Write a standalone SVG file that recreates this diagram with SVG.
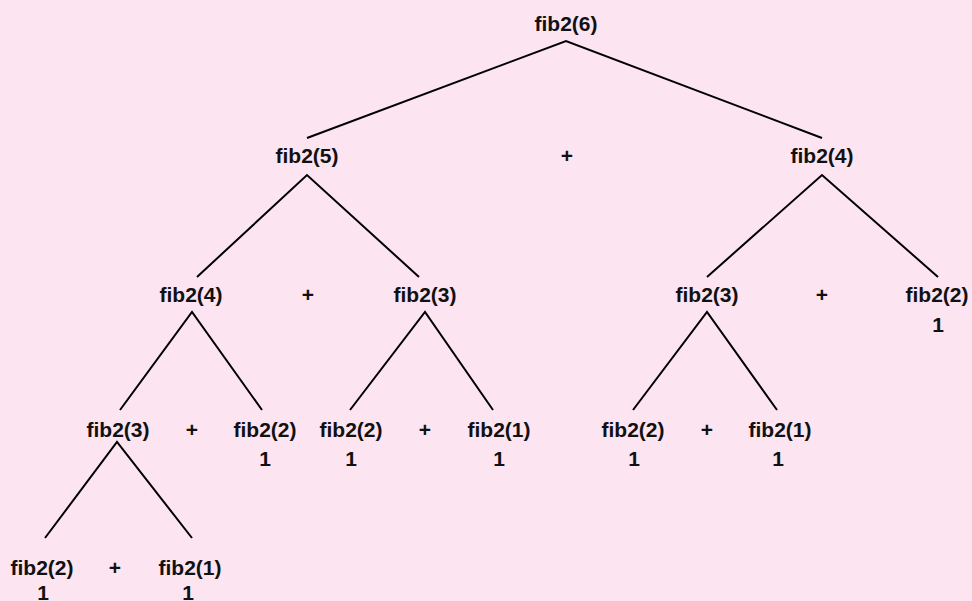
<svg xmlns="http://www.w3.org/2000/svg" width="972" height="601" viewBox="0 0 972 601">
<style>
text{font-family:"Liberation Sans",Arial,sans-serif;font-weight:bold;font-size:21px;fill:#111;text-anchor:middle}
.e{stroke:#000;stroke-width:2;fill:none}
</style>
<rect width="972" height="601" fill="#fce4f1"/>
<g id="connectors">
<path class="e" d="M307 138L566 41L822 138"/>
<path class="e" d="M197 277L307 175L419 277"/>
<path class="e" d="M707 277L822 175L938 277"/>
<path class="e" d="M120 410L192 312L262 410"/>
<path class="e" d="M350 410L425 312L493 410"/>
<path class="e" d="M633 410L707 312L777 410"/>
<path class="e" d="M45 538L117 442L192 538"/>
</g>
<g id="n-fib6"><text x="566" y="31">fib2(6)</text></g>
<g id="n-fib5"><text x="307" y="163">fib2(5)</text></g>
<g id="n-fib4a"><text x="822" y="163">fib2(4)</text></g>
<g id="n-fib4b"><text x="191" y="302">fib2(4)</text></g>
<g id="n-fib3a"><text x="425" y="302">fib2(3)</text></g>
<g id="n-fib3b"><text x="707" y="302">fib2(3)</text></g>
<g id="n-fib2a"><text x="937" y="302">fib2(2)</text><text x="938" y="332">1</text></g>
<g id="n-fib3c"><text x="118" y="437">fib2(3)</text></g>
<g id="n-fib2b"><text x="265" y="437">fib2(2)</text><text x="265" y="466">1</text></g>
<g id="n-fib2c"><text x="351" y="437">fib2(2)</text><text x="351" y="466">1</text></g>
<g id="n-fib1a"><text x="499" y="437">fib2(1)</text><text x="499" y="466">1</text></g>
<g id="n-fib2d"><text x="633" y="437">fib2(2)</text><text x="634" y="466">1</text></g>
<g id="n-fib1b"><text x="780" y="437">fib2(1)</text><text x="778" y="466">1</text></g>
<g id="n-fib2e"><text x="42" y="575">fib2(2)</text><text x="43" y="600">1</text></g>
<g id="n-fib1c"><text x="190" y="575">fib2(1)</text><text x="188" y="600">1</text></g>
<g id="ops">
<text x="567" y="163">+</text>
<text x="308" y="302">+</text>
<text x="822" y="302">+</text>
<text x="192" y="437">+</text>
<text x="425" y="437">+</text>
<text x="707" y="437">+</text>
<text x="115" y="575">+</text>
</g>
</svg>
